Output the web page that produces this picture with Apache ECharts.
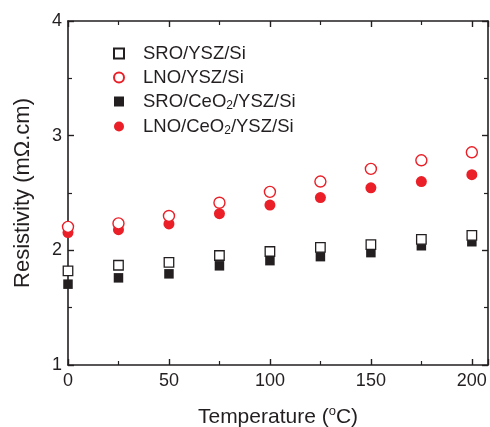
<!DOCTYPE html>
<html>
<head>
<meta charset="utf-8">
<script src="https://cdn.jsdelivr.net/npm/echarts@6/dist/echarts.min.js"></script>
<style>
  html, body { margin: 0; padding: 0; background: #fff; }
  #chart { width: 490px; height: 427px; }
</style>
</head>
<body>
<div id="chart"></div>
<script>
// temperatures (°C)
const temps = [0, 25, 50, 75, 100, 125, 150, 175, 200];

// resistivity (mΩ.cm)
const sroYsz = [1.82, 1.87, 1.895, 1.955, 1.99, 2.025, 2.05, 2.095, 2.13];
const lnoYsz = [2.205, 2.235, 2.30, 2.415, 2.51, 2.60, 2.71, 2.785, 2.855];
const sroCeo = [1.705, 1.76, 1.795, 1.865, 1.91, 1.945, 1.98, 2.04, 2.075];
const lnoCeo = [2.155, 2.18, 2.23, 2.32, 2.395, 2.46, 2.545, 2.60, 2.66];

const seriesNames = ['SRO/YSZ/Si', 'LNO/YSZ/Si', 'SRO/CeO2/YSZ/Si', 'LNO/CeO2/YSZ/Si'];

const RED = '#ea1f27';
const INK = '#231f20';
const FONT = 'Liberation Sans, Arial, sans-serif';

function pairs(ys) {
  return temps.map((t, i) => [t, ys[i]]);
}

const chart = echarts.init(document.getElementById('chart'));

const axisCommon = {
  axisLine: { show: true, onZero: false, lineStyle: { color: INK, width: 1.6 } },
  axisTick: { show: true, inside: true, length: 6, lineStyle: { color: INK, width: 1.4 } },
  minorTick: { show: true, splitNumber: 2, length: 4, lineStyle: { color: INK, width: 1.2 } },
  splitLine: { show: false }
};

const option = {
  animation: false,
  backgroundColor: '#fff',
  textStyle: { fontFamily: FONT },
  grid: { left: 68, right: 2, top: 21, bottom: 62, containLabel: false, outerBoundsMode: 'none' },
  legend: {
    orient: 'vertical',
    left: 108,
    top: 39,
    itemGap: 5,
    itemWidth: 10,
    itemHeight: 10,
    data: seriesNames,
    textStyle: {
      fontFamily: FONT,
      fontSize: 18.5,
      color: INK,
      padding: [0, 0, 0, 14],
      rich: {
        sub: { fontSize: 12, verticalAlign: 'bottom', padding: [9, 0, 0, 0], color: INK, fontFamily: FONT }
      }
    },
    formatter: name => name.replace('CeO2', 'CeO{sub|2}')
  },
  xAxis: [
    Object.assign({
      type: 'value',
      min: 0,
      max: 208,
      interval: 50,
      position: 'bottom',
      name: 'Temperature ({sup|o}C)',
      nameLocation: 'middle',
      nameGap: 40,
      nameTextStyle: {
        fontFamily: FONT, fontSize: 21, color: INK,
        rich: { sup: { fontSize: 13, verticalAlign: 'top', padding: [0, 0, 11, 0], color: INK, fontFamily: FONT } }
      },
      axisLabel: { fontSize: 18, color: INK, margin: 7, showMaxLabel: false, fontFamily: FONT }
    }, axisCommon),
    Object.assign({
      type: 'value',
      min: 0,
      max: 208,
      interval: 50,
      position: 'top',
      axisLabel: { show: false }
    }, axisCommon)
  ],
  yAxis: [
    Object.assign({
      type: 'value',
      min: 1,
      max: 4,
      interval: 1,
      position: 'left',
      name: 'Resistivity (mΩ.cm)',
      nameLocation: 'middle',
      nameGap: 34,
      nameRotate: 90,
      nameTextStyle: { fontFamily: FONT, fontSize: 22, color: INK },
      axisLabel: { fontSize: 18, color: INK, margin: 6, fontFamily: FONT }
    }, axisCommon),
    Object.assign({
      type: 'value',
      min: 1,
      max: 4,
      interval: 1,
      position: 'right',
      axisLabel: { show: false }
    }, axisCommon)
  ],
  series: [
    {
      name: seriesNames[0], type: 'scatter', symbol: 'rect', symbolSize: 9.5,
      itemStyle: { color: '#fff', borderColor: INK, borderWidth: 1.3, opacity: 1 },
      data: pairs(sroYsz), z: 3
    },
    {
      name: seriesNames[1], type: 'scatter', symbol: 'circle', symbolSize: 11,
      itemStyle: { color: '#fff', borderColor: RED, borderWidth: 1.4, opacity: 1 },
      data: pairs(lnoYsz), z: 3
    },
    {
      name: seriesNames[2], type: 'scatter', symbol: 'rect', symbolSize: 9.5,
      itemStyle: { color: INK, opacity: 1 },
      data: pairs(sroCeo), z: 2
    },
    {
      name: seriesNames[3], type: 'scatter', symbol: 'circle', symbolSize: 11,
      itemStyle: { color: RED, opacity: 1 },
      data: pairs(lnoCeo), z: 2
    }
  ]
};

chart.setOption(option);
</script>
</body>
</html>
